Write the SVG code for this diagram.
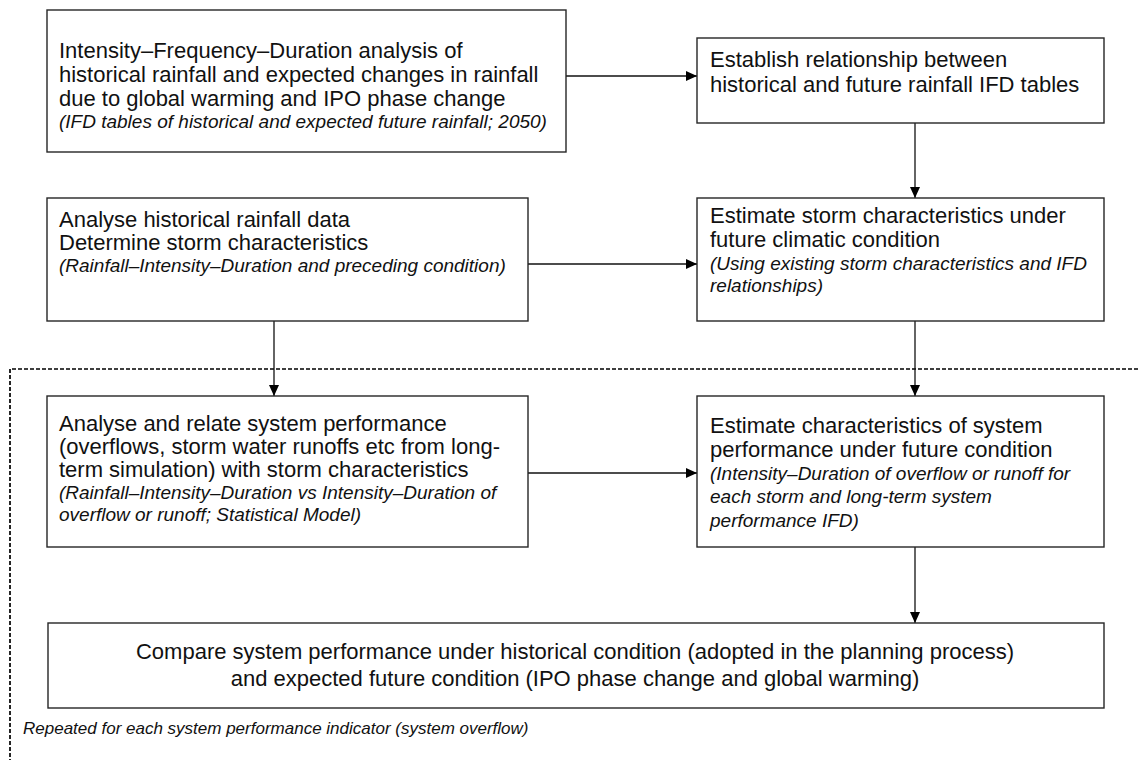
<svg xmlns="http://www.w3.org/2000/svg" width="1138" height="760" viewBox="0 0 1138 760">
<style>
.box{fill:#fff;stroke:#262626;stroke-width:1.4}
.t{font-family:"Liberation Sans",Arial,sans-serif;font-size:22px;fill:#111}
.i{font-family:"Liberation Sans",Arial,sans-serif;font-size:19px;font-style:italic;fill:#111}
.c{text-anchor:middle}
.ln{stroke:#111;stroke-width:1.3;fill:none}
.dash{stroke:#000;stroke-width:1.7;fill:none;stroke-dasharray:4 2}
</style>
<defs>
<marker id="ah" markerUnits="userSpaceOnUse" markerWidth="11" markerHeight="11" refX="11" refY="5.5" orient="auto">
<path d="M0,0.5 L11,5.5 L0,10.5 z" fill="#000"/>
</marker>
</defs>
<rect width="1138" height="760" fill="#fff"/>
<g id="frame">
<path class="dash" d="M1138,369 H10 V760"/>
<text class="i" x="23" y="734" style="font-size:17px">Repeated for each system performance indicator (system overflow)</text>
</g>
<g id="connectors">
<line class="ln" x1="566" y1="76" x2="697" y2="76" marker-end="url(#ah)"/>
<line class="ln" x1="915" y1="123" x2="915" y2="198" marker-end="url(#ah)"/>
<line class="ln" x1="528" y1="264" x2="697" y2="264" marker-end="url(#ah)"/>
<line class="ln" x1="274" y1="321" x2="274" y2="396" marker-end="url(#ah)"/>
<line class="ln" x1="915" y1="321" x2="915" y2="396" marker-end="url(#ah)"/>
<line class="ln" x1="528" y1="473" x2="697" y2="473" marker-end="url(#ah)"/>
<line class="ln" x1="915" y1="547" x2="915" y2="623" marker-end="url(#ah)"/>
</g>
<g id="n1">
<rect class="box" x="47" y="10" width="519" height="142"/>
<text class="t" x="59" y="58">Intensity–Frequency–Duration analysis of</text>
<text class="t" x="59" y="82">historical rainfall and expected changes in rainfall</text>
<text class="t" x="59" y="106">due to global warming and IPO phase change</text>
<text class="i" x="59" y="128">(IFD tables of historical and expected future rainfall; 2050)</text>
</g>
<g id="n2">
<rect class="box" x="697" y="38" width="407" height="85"/>
<text class="t" x="710" y="67">Establish relationship between</text>
<text class="t" x="710" y="92">historical and future rainfall IFD tables</text>
</g>
<g id="n3">
<rect class="box" x="47" y="198" width="481" height="123"/>
<text class="t" x="59" y="227">Analyse historical rainfall data</text>
<text class="t" x="59" y="250">Determine storm characteristics</text>
<text class="i" x="59" y="272">(Rainfall–Intensity–Duration and preceding condition)</text>
</g>
<g id="n4">
<rect class="box" x="697" y="198" width="407" height="123"/>
<text class="t" x="710" y="223">Estimate storm characteristics under</text>
<text class="t" x="710" y="247">future climatic condition</text>
<text class="i" x="710" y="270">(Using existing storm characteristics and IFD</text>
<text class="i" x="710" y="292">relationships)</text>
</g>
<g id="n5">
<rect class="box" x="47" y="396" width="481" height="151"/>
<text class="t" x="59" y="431">Analyse and relate system performance</text>
<text class="t" x="59" y="454">(overflows, storm water runoffs etc from long-</text>
<text class="t" x="59" y="477">term simulation) with storm characteristics</text>
<text class="i" x="59" y="499">(Rainfall–Intensity–Duration vs Intensity–Duration of</text>
<text class="i" x="59" y="521">overflow or runoff; Statistical Model)</text>
</g>
<g id="n6">
<rect class="box" x="697" y="396" width="407" height="151"/>
<text class="t" x="710" y="433">Estimate characteristics of system</text>
<text class="t" x="710" y="457">performance under future condition</text>
<text class="i" x="710" y="480">(Intensity–Duration of overflow or runoff for</text>
<text class="i" x="710" y="503">each storm and long-term system</text>
<text class="i" x="710" y="527">performance IFD)</text>
</g>
<g id="n7">
<rect class="box" x="48" y="623" width="1056" height="85"/>
<text class="t c" x="575" y="659">Compare system performance under historical condition (adopted in the planning process)</text>
<text class="t c" x="575" y="686">and expected future condition (IPO phase change and global warming)</text>
</g>
</svg>
